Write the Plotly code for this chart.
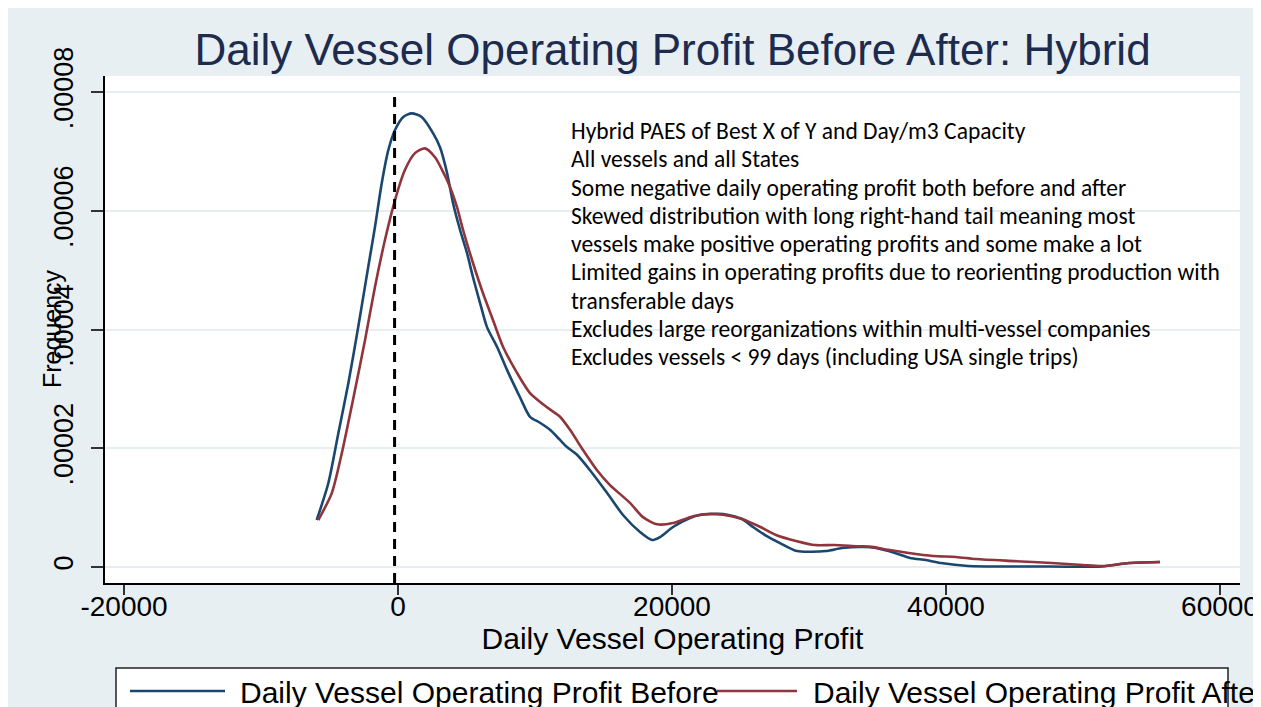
import plotly.graph_objects as go

# ---------------- data ----------------
profit_before_x = [-5934, -5087, -4358, -3628, -2898, -2168, -1679, -1190, -708, -219, 387, 1000, 1730,
                   2577, 3066, 3577, 4015, 4526, 5036, 5474, 5985, 6496, 7226, 7956, 8905, 9635, 10365,
                   11095, 11825, 12336, 13066, 14015, 15255, 16423, 17664, 18540, 19124, 20073, 21314,
                   22044, 23723, 25109, 25912, 26788, 27883, 29124, 31241, 32409, 34015, 34891, 36277,
                   37372, 38540, 39635, 41606, 46350, 51387, 53358, 55620]
density_before = [7.92e-6, 1.41e-5, 2.25e-5, 3.09e-5, 4.05e-5, 5.06e-5, 5.73e-5, 6.46e-5, 7.02e-5,
                  7.36e-5, 7.58e-5, 7.64e-5, 7.58e-5, 7.30e-5, 7.07e-5, 6.64e-5, 6.13e-5, 5.68e-5,
                  5.29e-5, 4.88e-5, 4.45e-5, 4.04e-5, 3.71e-5, 3.32e-5, 2.86e-5, 2.53e-5, 2.43e-5,
                  2.31e-5, 2.14e-5, 2.02e-5, 1.89e-5, 1.63e-5, 1.25e-5, 8.76e-6, 5.89e-6, 4.55e-6,
                  5.05e-6, 6.74e-6, 8.25e-6, 8.76e-6, 8.93e-6, 8.08e-6, 6.74e-6, 5.39e-6, 4.04e-6,
                  2.69e-6, 2.69e-6, 3.2e-6, 3.37e-6, 3.2e-6, 2.36e-6, 1.52e-6, 1.18e-6, 6.7e-7, 1.7e-7,
                  1e-7, 1e-7, 6.7e-7, 8.4e-7]

profit_after_x = [-5817, -4839, -4109, -3139, -2409, -1679, -949, -219, 511, 1241, 1971, 2701, 3300,
                  3796, 4307, 4745, 5474, 6204, 6934, 7664, 8686, 9635, 10876, 11825, 12555, 13504,
                  14526, 15474, 16934, 17883, 18905, 20073, 21314, 22336, 23723, 25109, 26496, 27591,
                  29051, 30438, 31825, 33504, 34599, 35766, 37153, 39051, 40730, 42190, 44964, 47737,
                  50000, 51387, 53358, 55620]
density_after = [7.92e-6, 1.24e-5, 1.91e-5, 2.98e-5, 3.82e-5, 4.72e-5, 5.51e-5, 6.18e-5, 6.69e-5,
                 6.97e-5, 7.05e-5, 6.90e-5, 6.65e-5, 6.40e-5, 6.06e-5, 5.68e-5, 5.12e-5, 4.61e-5,
                 4.16e-5, 3.71e-5, 3.27e-5, 2.93e-5, 2.69e-5, 2.53e-5, 2.31e-5, 1.97e-5, 1.63e-5,
                 1.38e-5, 1.08e-5, 8.4e-6, 7.2e-6, 7.4e-6, 8.4e-6, 8.9e-6, 8.8e-6, 8.1e-6, 6.7e-6,
                 5.4e-6, 4.4e-6, 3.7e-6, 3.7e-6, 3.5e-6, 3.4e-6, 2.9e-6, 2.4e-6, 1.85e-6, 1.7e-6,
                 1.35e-6, 1.0e-6, 6.7e-7, 3.4e-7, 1.7e-7, 6.7e-7, 8.4e-7]

series_names = ["Daily Vessel Operating Profit Before", "Daily Vessel Operating Profit After"]
x_tick_vals = [-20000, 0, 20000, 40000, 60000]
x_tick_text = ["-20000", "0", "20000", "40000", "60000"]
y_tick_vals = [0, 0.00002, 0.00004, 0.00006, 0.00008]
y_tick_text = ["0", ".00002", ".00004", ".00006", ".00008"]
ref_line_x = -250
ref_line_top = 7.95e-5

title_text = "Daily Vessel Operating Profit Before After: Hybrid"
x_title = "Daily Vessel Operating Profit"
y_title = "Frequency"
notes = [
    "Hybrid PAES of Best X of Y and Day/m3 Capacity",
    "All vessels and all States",
    "Some negative daily operating profit both before and after",
    "Skewed distribution with long right-hand tail meaning most",
    "vessels make positive operating profits and some make a lot",
    "Limited gains in operating profits due to reorienting production with",
    "transferable days",
    "Excludes large reorganizations within multi-vessel companies",
    "Excludes vessels < 99 days (including USA single trips)",
]

# ---------------- style ----------------
OFF = 8                      # page body margin
W, H = 1245, 699
L, R, T, B = 97, 13, 68, 124
BG = "#e8eff2"
BLUE = "#1a476f"
RED = "#90353b"
FONT = "Liberation Sans, Arial, sans-serif"
NOTE_FONT = "Carlito, Calibri, Lato, sans-serif"

pw, ph = W - L - R, H - T - B


def px_x(p):
    """screen x pixel -> paper coordinate"""
    return (p - OFF - L) / pw


def px_y(p):
    """screen y pixel -> paper coordinate"""
    return (H - B - (p - OFF)) / ph


fig = go.Figure()
fig.add_trace(go.Scatter(x=profit_before_x, y=density_before, mode="lines", name=series_names[0],
                         line=dict(color=BLUE, width=2.6, shape="spline", smoothing=0.7),
                         showlegend=False))
fig.add_trace(go.Scatter(x=profit_after_x, y=density_after, mode="lines", name=series_names[1],
                         line=dict(color=RED, width=2.6, shape="spline", smoothing=0.7),
                         showlegend=False))

shapes = []
# reference dashed line
shapes.append(dict(type="line", xref="x", yref="y", x0=ref_line_x, x1=ref_line_x, y0=-2.7e-6, y1=ref_line_top,
                   line=dict(color="black", width=3, dash="10px,7px"), layer="above"))
# legend box
shapes.append(dict(type="rect", xref="paper", yref="paper", x0=px_x(116), x1=px_x(1228), y0=px_y(760), y1=px_y(668),
                   fillcolor="white", line=dict(color="#222222", width=1.5)))
shapes.append(dict(type="line", xref="paper", yref="paper", x0=px_x(130), x1=px_x(225), y0=px_y(691), y1=px_y(691),
                   line=dict(color=BLUE, width=2.6)))

annotations = []
annotations.append(dict(text=series_names[0], xref="paper", yref="paper", x=px_x(238), y=px_y(692),
                        xanchor="left", yanchor="middle", showarrow=False,
                        font=dict(family=FONT, size=30, color="black")))
annotations.append(dict(text=series_names[1], xref="paper", yref="paper", x=px_x(811), y=px_y(692),
                        xanchor="left", yanchor="middle", showarrow=False,
                        font=dict(family=FONT, size=30, color="black")))
annotations.append(dict(text=y_title, xref="paper", yref="paper", x=px_x(52), y=px_y(329),
                        xanchor="center", yanchor="middle", textangle=-90, showarrow=False,
                        font=dict(family=FONT, size=25, color="black")))
for i, line in enumerate(notes):
    annotations.append(dict(text=line, xref="paper", yref="paper", x=px_x(569), y=px_y(131 + 28.25 * i),
                            xanchor="left", yanchor="middle", showarrow=False,
                            font=dict(family=NOTE_FONT, size=23.5, color="black")))

fig.update_layout(
    width=W, height=H,
    margin=dict(l=L, r=R, t=T, b=B, pad=0, autoexpand=False),
    paper_bgcolor=BG, plot_bgcolor="white",
    title=dict(text=title_text, x=0.5, xref="paper", y=1 - (50 - OFF) / H, yref="container",
               xanchor="center", yanchor="middle",
               font=dict(family=FONT, size=44, color="#1c2b4e")),
    xaxis=dict(range=[-21387, 61460], tickvals=x_tick_vals, ticktext=x_tick_text, automargin=False,
               showgrid=False, zeroline=False, showline=True, linecolor="black", linewidth=1.5,
               ticks="outside", ticklen=10, tickwidth=1.5, tickcolor="#333333",
               ticklabelstandoff=-12, ticklabeloverflow="allow",
               tickfont=dict(family=FONT, size=28, color="black"),
               title=dict(text=x_title, standoff=4, font=dict(family=FONT, size=30, color="black"))),
    yaxis=dict(range=[-2.69e-6, 8.269e-5], tickvals=y_tick_vals, ticktext=y_tick_text, tickangle=-90,
               automargin=False,
               showgrid=True, gridcolor="#e6eef1", gridwidth=1.5, zeroline=False,
               showline=True, linecolor="black", linewidth=1.5,
               ticks="outside", ticklen=12, tickwidth=1.5, tickcolor="#333333",
               ticklabelstandoff=7,
               tickfont=dict(family=FONT, size=27, color="black")),
    shapes=shapes, annotations=annotations,
)
# red legend sample drawn over the end of the first legend label, as in the reference
fig.add_shape(type="line", xref="paper", yref="paper", x0=px_x(717), x1=px_x(797), y0=px_y(691), y1=px_y(691),
              line=dict(color=RED, width=2.6))

fig.write_html("out.html")
